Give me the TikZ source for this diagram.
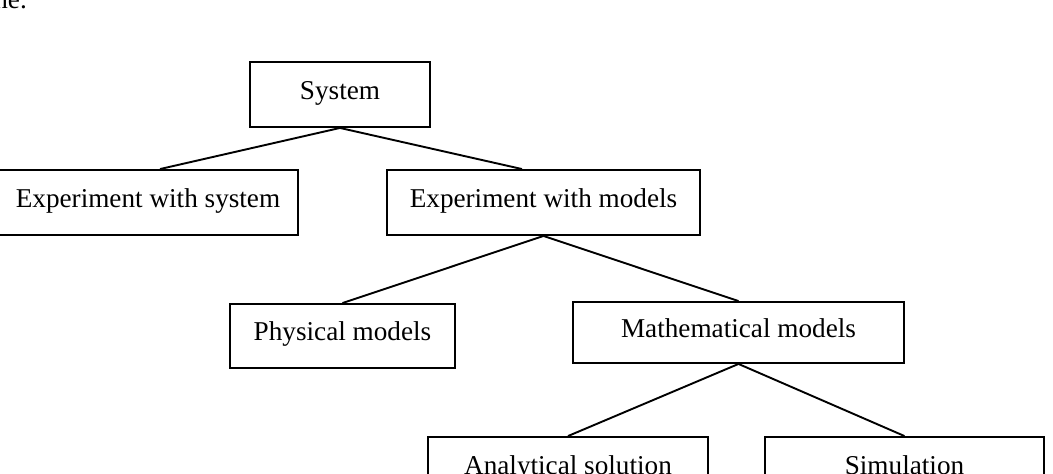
\documentclass[tikz,border=0pt]{standalone}
\usepackage{fontspec}
\setmainfont{Liberation Serif}

\begin{document}
\begin{tikzpicture}[x=1pt, y=-1pt,
    % Define the style for the boxes
    box/.style={draw, line width=1.9pt, inner sep=0pt, align=center,
        text height=18pt, text depth=9pt,
        font=\fontsize{27.2}{31}\selectfont},
    link/.style={line width=1.9pt}
]

\useasboundingbox (0,0) rectangle (1053,474);

% Top of the cut text from the line above
\node[anchor=base east, inner sep=0pt, font=\fontsize{27.2}{31}\selectfont] (tail) at (27,8) {ne.};

% Define the boxes
\node[box, minimum width=180pt, minimum height=65pt] (sys) at (340,94.5) {System};
\node[box, minimum width=300pt, minimum height=65pt] (expsys) at (148,202.5) {Experiment with system};
\node[box, minimum width=313pt, minimum height=65pt] (expmod) at (543.5,202.5) {Experiment with models};
\node[box, minimum width=225pt, minimum height=64pt] (phys) at (342.5,336) {Physical models};
\node[box, minimum width=331pt, minimum height=61pt] (math) at (738.5,332.5) {Mathematical models};
\node[box, minimum width=280pt, minimum height=65pt] (ana) at (568,469.5) {Analytical solution};
\node[box, minimum width=279pt, minimum height=65pt] (sim) at (904.5,469.5) {Simulation};

% Draw the lines
\draw[link] (sys.south) -- ([xshift=12pt]expsys.north);
\draw[link] (sys.south) -- ([xshift=-21.5pt]expmod.north);
\draw[link] (expmod.south) -- (phys.north);
\draw[link] (expmod.south) -- (math.north);
\draw[link] (math.south) -- (ana.north);
\draw[link] (math.south) -- (sim.north);

\end{tikzpicture}
\end{document}
